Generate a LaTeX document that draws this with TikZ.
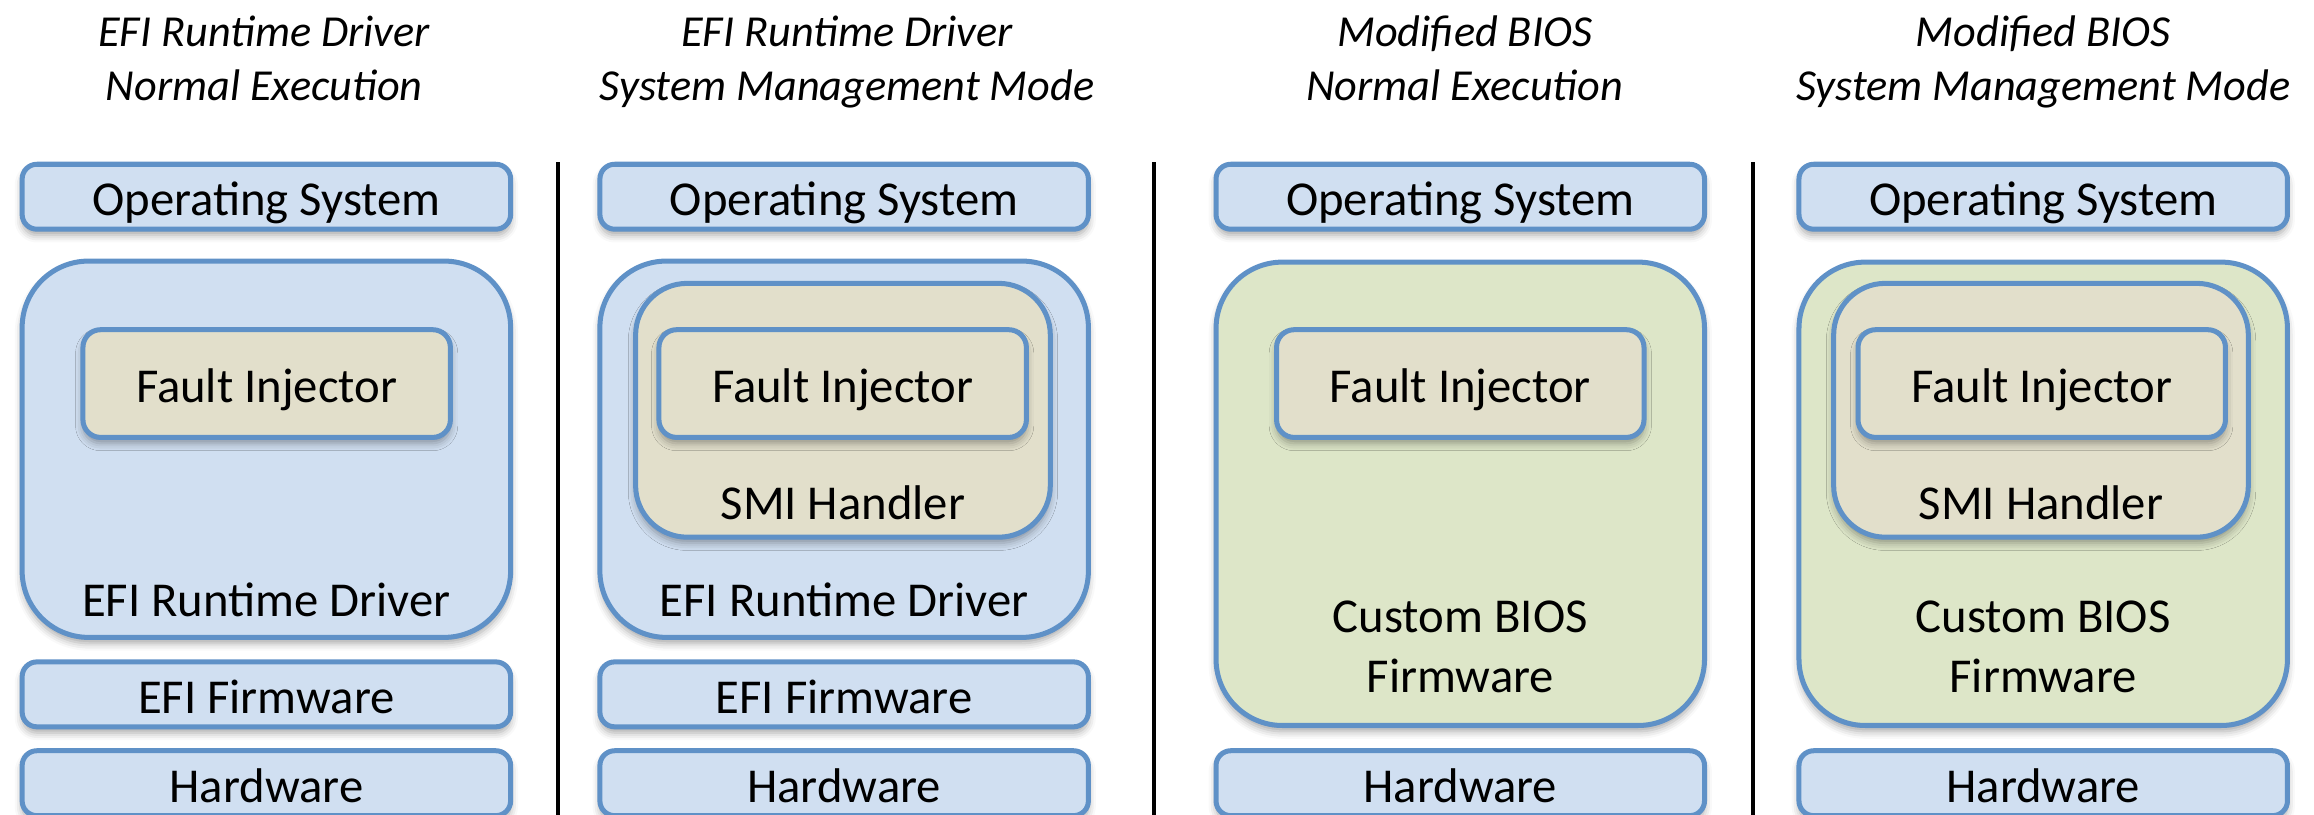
\documentclass[tikz,border=0pt]{standalone}
\usepackage{fontspec}
\setmainfont{Carlito}
\usetikzlibrary{shadows.blur}
\definecolor{bfill}{HTML}{D0DFF1}
\definecolor{bdraw}{HTML}{5F91C7}
\definecolor{tfill}{HTML}{E2DFCB}
\definecolor{gfill}{HTML}{DDE6C8}
\tikzset{
  base/.style={draw=bdraw, line width=3.4pt, inner sep=0pt,
    blur shadow={shadow xshift=0pt, shadow yshift=-4pt, shadow blur radius=5pt, shadow opacity=35}},
  boxfont/.style={font=\fontsize{33}{41}\selectfont, text height=26pt, text depth=0pt},
  layer/.style={base, boxfont, fill=bfill, rounded corners=10pt, minimum width=331pt, minimum height=44pt},
  bigblue/.style={base, fill=bfill, rounded corners=45pt, minimum width=331pt, minimum height=255pt},
  biggreen/.style={base, fill=gfill, rounded corners=45pt, minimum width=331pt, minimum height=314pt},
  smibox/.style={base, fill=tfill, rounded corners=35pt, minimum width=281pt, minimum height=172pt},
  fault/.style={base, boxfont, fill=tfill, rounded corners=12pt, minimum width=249pt, minimum height=73pt},
  lbl/.style={font=\fontsize{33}{41}\selectfont, inner sep=0pt, anchor=base},
  title/.style={font=\itshape\fontsize{30}{36}\selectfont, inner sep=0pt, anchor=base},
  divider/.style={line width=3pt, black}
}
\begin{document}
\begin{tikzpicture}[x=1pt, y=-1pt]
\useasboundingbox (0,0) rectangle (1568,552);
\clip (0,0) rectangle (1568,552);
% titles
\node[title] (t1a) at (179,31.6) {EFI Runtime Driver};
\node[title] (t1b) at (179,67.8) {Normal Execution};
\node[title] (t2a) at (574,31.6) {EFI Runtime Driver};
\node[title] (t2b) at (574,67.8) {System Management Mode};
\node[title] (t3a) at (992.5,31.6) {Modified BIOS};
\node[title] (t3b) at (992.5,67.8) {Normal Execution};
\node[title] (t4a) at (1384.5,31.6) {Modified BIOS};
\node[title] (t4b) at (1384.5,67.8) {System Management Mode};
% dividers
\coordinate (d1t) at (378,110); \coordinate (d1b) at (378,560);
\coordinate (d2t) at (782,110); \coordinate (d2b) at (782,560);
\coordinate (d3t) at (1188,110); \coordinate (d3b) at (1188,560);
\draw[divider] (d1t) -- (d1b);
\draw[divider] (d2t) -- (d2b);
\draw[divider] (d3t) -- (d3b);
% column 1
\node[layer] (os1) at (180.5,133.3) {Operating System};
\node[bigblue] (drv1) at (180.5,304.4) {};
\node[lbl] (drv1l) at (180.5,417.9) {EFI Runtime Driver};
\node[fault] (fi1) at (180.7,259.9) {Fault Injector};
\node[layer] (fw1) at (180.5,470.5) {EFI Firmware};
\node[layer] (hw1) at (180.5,530.7) {Hardware};
% column 2
\node[layer] (os2) at (572,133.3) {Operating System};
\node[bigblue] (drv2) at (572,304.4) {};
\node[lbl] (drv2l) at (572,417.9) {EFI Runtime Driver};
\node[smibox] (smi2) at (571.2,278) {};
\node[lbl] (smi2l) at (571.2,352.3) {SMI Handler};
\node[fault] (fi2) at (571,259.9) {Fault Injector};
\node[layer] (fw2) at (572,470.5) {EFI Firmware};
\node[layer] (hw2) at (572,530.7) {Hardware};
% column 3
\node[layer] (os3) at (989.5,133.3) {Operating System};
\node[biggreen] (bios3) at (989.5,334.6) {};
\node[lbl] (bios3a) at (989.5,428.7) {Custom BIOS};
\node[lbl] (bios3b) at (989.5,469.4) {Firmware};
\node[fault] (fi3) at (989.5,259.9) {Fault Injector};
\node[layer] (hw3) at (989.5,530.7) {Hardware};
% column 4
\node[layer] (os4) at (1384.5,133.3) {Operating System};
\node[biggreen] (bios4) at (1384.5,334.6) {};
\node[lbl] (bios4a) at (1384.5,428.7) {Custom BIOS};
\node[lbl] (bios4b) at (1384.5,469.4) {Firmware};
\node[smibox] (smi4) at (1383,278) {};
\node[lbl] (smi4l) at (1383,352.3) {SMI Handler};
\node[fault] (fi4) at (1383.5,259.9) {Fault Injector};
\node[layer] (hw4) at (1384.5,530.7) {Hardware};
\end{tikzpicture}
\end{document}
